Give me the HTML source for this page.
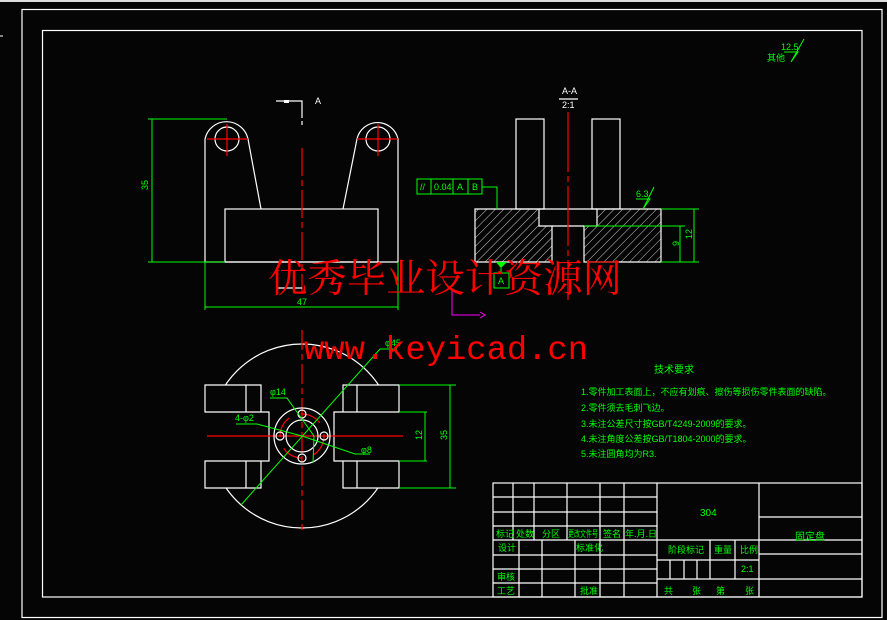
<!DOCTYPE html>
<html><head><meta charset="utf-8"><style>
html,body{margin:0;padding:0;background:#050505;}
svg{display:block}
.w{stroke:#fff;fill:none;stroke-width:1.2}
.g{stroke:#0f0;fill:none;stroke-width:1}
.r{stroke:#f00;fill:none;stroke-width:1.2}
.gt{fill:#0f0;font-family:"Liberation Sans","Noto Sans CJK SC",sans-serif;font-size:9px}
</style></head><body>
<svg width="887" height="620" viewBox="0 0 887 620" xmlns="http://www.w3.org/2000/svg">
<defs>
<pattern id="h" width="6" height="6" patternUnits="userSpaceOnUse" patternTransform="rotate(45)">
<line x1="0" y1="0" x2="0" y2="6" stroke="#fff" stroke-width="0.8"/></pattern>
</defs>
<rect x="0" y="0" width="887" height="2" fill="#ddd"/>
<line x1="0" y1="36" x2="3" y2="36" stroke="#fff"/>
<rect class="w" x="22" y="9.5" width="860" height="608"/>
<rect class="w" x="42.5" y="30.5" width="819.5" height="566.5"/>

<!-- front view -->
<path class="w" d="M205,262 V139 A22,22 0 0 1 248,139 L261,209 M343,209 L357,139 A21,21 0 0 1 398,139 V262 H205"/>
<rect class="w" x="225" y="209" width="153" height="53"/>
<circle class="w" cx="227" cy="139" r="12"/>
<circle class="w" cx="378" cy="139" r="12"/>
<path class="r" d="M207,139H248M227,124V156M357,139H398M378,124V156"/>
<line class="r" x1="302" y1="148" x2="302" y2="292" stroke-dasharray="28,4,6,4"/>
<path class="w" d="M276,101H302V114"/>
<rect x="284" y="100" width="5" height="3" fill="#fff"/>
<line class="w" x1="302" y1="114" x2="302" y2="126" stroke-dasharray="4,3"/>
<text x="315" y="104" fill="#fff" font-family="Liberation Sans" font-size="9">A</text>
<path class="g" d="M148,119H227M148,262H225M152,119V262M205,262V310M398,262V310M205,307H398"/>
<text class="gt" x="144" y="194" transform="rotate(-90 144 190)">35</text>
<text class="gt" x="297" y="305">47</text>
<path class="w" d="M277,288H302" />

<!-- section view -->
<text x="562" y="94" fill="#fff" font-family="Liberation Sans" font-size="9">A-A</text>
<line class="w" x1="559" y1="99" x2="578" y2="99"/>
<text x="562" y="108" fill="#fff" font-family="Liberation Sans" font-size="9">2:1</text>
<rect class="w" x="516" y="119" width="28" height="90"/>
<rect class="w" x="592" y="119" width="28" height="90"/>
<path d="M475,209H539V226H552V262H475Z" fill="url(#h)" stroke="#fff" stroke-width="1.2"/>
<path d="M597,209H661V262H584V226H597Z" fill="url(#h)" stroke="#fff" stroke-width="1.2"/>
<path class="w" d="M539,209H597M552,226H584"/>
<line class="r" x1="568" y1="112" x2="568" y2="300" stroke-dasharray="60,4,6,4"/>
<rect class="g" x="417" y="179" width="65" height="15" stroke-width="1.4"/>
<path class="g" d="M431,179V194M453,179V194M468,179V194M482,187H497V209"/>
<text class="gt" x="420" y="190">//</text><text class="gt" x="434" y="190">0.04</text>
<text class="gt" x="457" y="190">A</text><text class="gt" x="472" y="190">B</text>
<text class="gt" x="636" y="197">6.3</text>
<path class="g" d="M636,199H650L643,209L654,187"/>
<path class="g" d="M661,209H699M584,226H685M661,262H699M680,226V262M694,209V262"/>
<text class="gt" x="673" y="248" transform="rotate(-90 675 244)">9</text>
<text class="gt" x="686" y="241" transform="rotate(-90 688 237)">12</text>
<path d="M496,262H507L501,268Z" fill="#0f0"/>
<line class="g" x1="501" y1="268" x2="501" y2="273"/>
<rect class="g" x="494" y="273" width="15" height="15"/>
<text class="gt" x="498" y="284">A</text>
<path d="M452,290V315H480" stroke="#f0f" fill="none" stroke-width="1"/>
<path d="M480,312L485,315L480,318" stroke="#f0f" fill="none"/>

<!-- top view -->
<circle class="w" cx="302" cy="436" r="92"/>
<rect x="200" y="385" width="210" height="103" fill="#050505"/>
<path class="w" d="M205,385H261V412H205ZM205,461H261V488H205ZM246,385V412M246,461V488M261,412H269V461H261"/>
<path class="w" d="M343,385H399V412H343ZM343,461H399V488H343ZM357,385V412M357,461V488M343,412H334V461H343"/>
<line class="r" x1="302" y1="330" x2="302" y2="530" stroke-dasharray="20,4,6,4"/>
<line class="r" x1="207" y1="436" x2="403" y2="436"/>
<circle class="w" cx="302" cy="436" r="28"/>
<circle class="w" cx="302" cy="436" r="16"/>
<circle class="r" cx="302" cy="436" r="22" stroke-dasharray="22,12"/>
<circle class="w" cx="302" cy="414" r="4"/><circle class="w" cx="302" cy="458" r="4"/>
<circle class="w" cx="280" cy="436" r="4"/><circle class="w" cx="324" cy="436" r="4"/>
<path class="g" d="M399,385H456M399,488H456M399,412H427M399,461H427M425,412V461M450,385V488"/>
<text class="gt" x="414" y="440" transform="rotate(-90 418 436)">12</text>
<text class="gt" x="439" y="440" transform="rotate(-90 443 436)">35</text>
<path class="g" d="M241,505L380,349H397M270,398H287L314,436L313,463M236,424H257L302,436L355,454H370"/>
<text class="gt" x="385" y="346">φ45</text>
<text class="gt" x="270" y="395">φ14</text>
<text class="gt" x="235" y="421">4-φ2</text>
<text class="gt" x="361" y="453">φ8</text>

<!-- watermarks -->
<text x="268" y="292" fill="#f00" font-family="'Noto Serif CJK SC','WenQuanYi Zen Hei',serif" font-size="39" textLength="354" lengthAdjust="spacingAndGlyphs">优秀毕业设计资源网</text>
<text x="304" y="359" fill="#f00" font-family="'Liberation Mono',monospace" font-size="33" textLength="284" lengthAdjust="spacingAndGlyphs">www.keyicad.cn</text>

<!-- roughness top right -->
<text class="gt" x="781" y="50">12.5</text>
<text class="gt" x="767" y="61">其他</text>
<path class="g" d="M784,52H798L791,62L804,39"/>

<!-- tech requirements -->
<g class="gt" font-size="8.5">
<text x="654" y="373" font-size="10">技术要求</text>
<text x="581" y="395">1.零件加工表面上，不应有划痕、擦伤等损伤零件表面的缺陷。</text>
<text x="581" y="411">2.零件须去毛刺飞边。</text>
<text x="581" y="427">3.未注公差尺寸按GB/T4249-2009的要求。</text>
<text x="581" y="442">4.未注角度公差按GB/T1804-2000的要求。</text>
<text x="581" y="457">5.未注圆角均为R3.</text>
</g>

<!-- title block -->
<g class="w">
<rect x="493" y="483" width="369" height="114"/>
<path d="M493,497H657M493,512H657M493,526H657M493,540H862M493,555H657M493,569H657M493,583H657"/>
<path d="M513,483V540M534,483V540M567,483V540M600,483V597M624,483V597M657,483V597"/>
<path d="M519,540V597M542,540V597M575,540V597"/>
<path d="M759,483V597M759,517H862M759,554H862M657,560H759M657,579H862"/>
<path d="M670,560V579M684,560V579M697,560V579M710,540V579M735,540V579"/>
</g>
<g class="gt" font-size="8.5">
<text x="700" y="516" font-size="10">304</text>
<text x="795" y="540" font-size="10">固定盘</text>
<text x="496" y="537">标记</text><text x="516" y="537">处数</text><text x="542" y="537">分区</text>
<text x="568" y="537" textLength="30" lengthAdjust="spacingAndGlyphs">更改文件号</text><text x="603" y="537">签名</text><text x="625" y="537">年.月.日</text>
<text x="498" y="551">设计</text><text x="576" y="551">标准化</text>
<text x="668" y="553">阶段标记</text><text x="714" y="553">重量</text><text x="740" y="553">比例</text>
<text x="741" y="572">2:1</text>
<text x="497" y="580">审核</text><text x="497" y="594">工艺</text><text x="580" y="594">批准</text>
<text x="664" y="594">共</text><text x="692" y="594">张</text><text x="716" y="594">第</text><text x="745" y="594">张</text>
</g>
</svg>
</body></html>
